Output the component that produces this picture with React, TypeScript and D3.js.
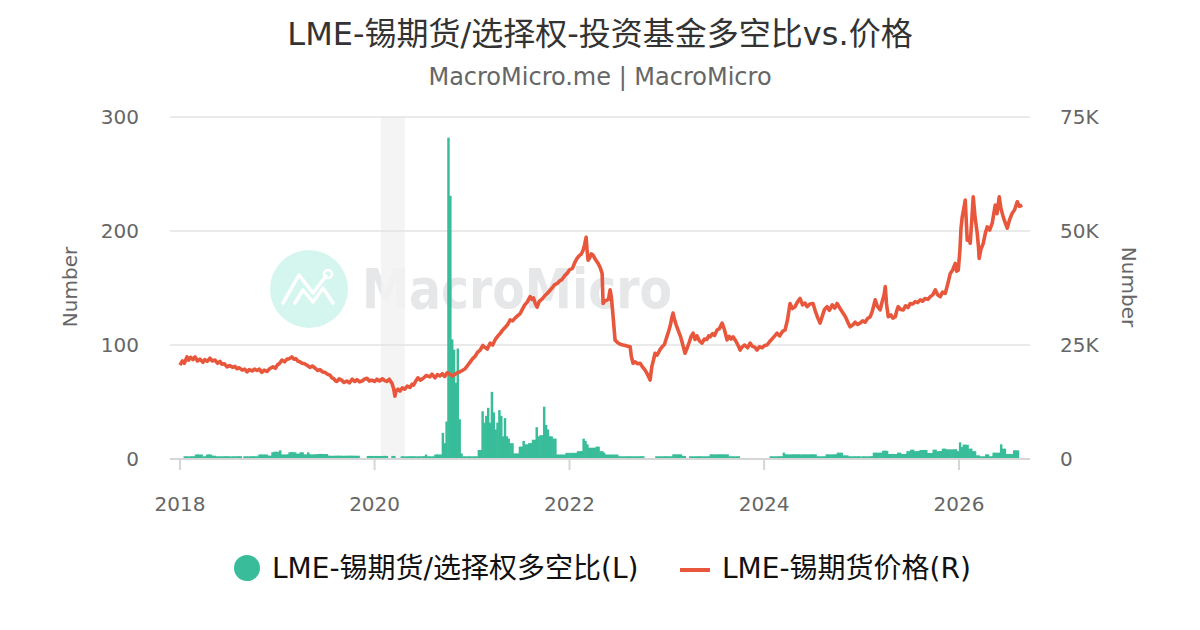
import * as d3 from "d3";
import { useEffect, useRef } from "react";

// weekly fund long/short ratio, one array per year (null = no report)
const ratio2018 = [null, null, 1.5, 1.5, 1.4, 1.5, 1.6, 1.5, 3, 3.2, 3, 3.1, 1.5, 1.5, 3, 3.2, 3, 2, 2, 1.5, 1.5, 1.4, 1.5, 1.5, 1.6, 1.5, 1.5, 1.4, 1.5, 1.5, 1.5, 1.6, 1.5, null, 1.5, 1.5, 1.4, 1.5, 1.5, 1.6, 1.5, 1.5, 3, 3.2, 3, 3.1, 3, 2, 2, 5, 5.5, 5.5];
const ratio2019 = [5.5, 6.7, 3, 3.1, 3, 3.2, 5, 5.2, 5, 5, 3.8, 3.8, 5, 5, 3.2, 3.2, 5, 3.2, 3.1, 3.2, 3.2, 3.5, 3.5, 3.6, 3.5, 3.4, 3.5, 2, 2, 1.9, 2, 2, 2.1, 2, 2, 1.9, 2, 2, 2, 2.1, 2, 2, 1.9, 2, null, null, null, null, 1.8, 1.8, 1.8, 1.8];
const ratio2020 = [1.8, 1.8, 1.7, 1.8, 1.8, 1.9, 1.8, null, null, 1.8, 1.8, null, null, null, 1.5, 1.5, 1.4, 1.5, 1.5, 1.6, 1.5, 1.5, 1.4, 1.5, 1.5, 1.5, 1.6, 3, 1.5, 1.5, 1.4, 1.5, 3, 3.2, 3, 3.1, 22, 13, 32, 281, 230, 104, 95, 66, 96, 34, 4, 1.5, 1.5, 1.4, 1.5, 1.5];
const ratio2021 = [1.5, 1.5, 1.5, 7, 7, 41, 31, 37, 44, 31, 58, 40, 25, 31, 42, 37, 19, 35, 19, 17, 13, 13, 4, 4, 4, 10, 10, 15, 12, 12, 13, 13, 16, 16, 27, 19, 20, 20, 45, 29, 25, 19, 19, 17, 17, 3, 3, 3, 3, 3, 4.5, 4.5];
const ratio2022 = [4.5, 4.5, 4.5, 4.5, 6, 6, 6, 17, 15, 12, 9, 9, 9, 9, 10, 10, 6, 6, 4.7, 3, 3, 3, 3, 3, 3, 3, 1.5, 1.5, 1.4, 1.5, 1.5, 1.6, 1.5, 1.5, 1.4, 1.5, 1.5, 1.5, 1.6, 1.5, null, null, null, null, null, null, 1.5, 1.5, 1.4, 1.5, 1.5, 1.6];
const ratio2023 = [1.5, 1.5, 1.5, 3.2, 3.2, 3.1, 3.2, 3.2, 1.8, 1.8, null, null, 1.5, 1.5, 1.4, 1.5, 1.5, 1.6, 1.5, 1.5, 1.4, 1.5, 1.5, 3.2, 3.2, 3.1, 3.2, 3.2, 3.3, 3.2, 3.2, 3.1, 3.2, 1.5, 1.5, 1.5, 1.4, 1.5, 1.5, null, null, null, null, null, null, null, null, null, null, null, null, null];
const ratio2024 = [null, null, null, 1.5, 1.5, 1.4, 1.5, 1.5, 1.6, 1.5, 4.7, 3.2, 3.2, 3.1, 3.2, 3.2, 3.3, 3.2, 3.2, 3.1, 3.2, 3.2, 3.2, 3.1, 3.2, 3.3, 3.2, 3.2, 1.5, 1.5, 1.4, 1.5, 1.5, 3.2, 3.2, 3.1, 3.2, 3.2, 3.3, 4.7, 4.7, 4.6, 2.3, 2.3, 2.3, 1.5, 1.5, 1.4, 1.5, 1.5, 1.6, 1.5];
const ratio2025 = [1.5, 1.5, 1.4, 1.5, 1.5, 1.6, 4.7, 4.7, 4.6, 4.7, 4.7, 6.4, 6.4, 6.3, 3.5, 3.5, 3.6, 3.5, 3.5, 4.7, 4.7, 3.5, 3.5, 3.6, 6, 6, 7.3, 7.3, 6, 6, 6.1, 7, 7, 7.1, 7, 4.4, 4.4, 4.4, 7.3, 7.3, 6, 6, 6.1, 8.2, 8.2, 7.6, 7.6, 7.5, 7.6, 7.6, 7.7, 6];
const ratio2026 = [13.7, 9.6, 11.7, 11.7, 11.6, 8.2, 8.2, 6, 6, 2.3, 2.3, 1.5, 1.5, 1.5, 3.2, 3.2, 1.5, 1.5, 4.7, 4.7, 4.6, 4.7, 12, 8.2, 8.2, 3.5, 3.5, 3.6, 3.5, 6.7, 6.7, 6.7];

const ratioYears: [number, (number | null)[]][] = [
  [2018, ratio2018],
  [2019, ratio2019],
  [2020, ratio2020],
  [2021, ratio2021],
  [2022, ratio2022],
  [2023, ratio2023],
  [2024, ratio2024],
  [2025, ratio2025],
  [2026, ratio2026],
];

// LME tin price (thousand USD), [decimal year, price]
const priceSeries: [number, number][] = [
  [2018.0, 20.6], [2018.025, 21.5], [2018.045, 21.0], [2018.072, 22.4], [2018.09, 21.7],
  [2018.11, 22.3], [2018.134, 21.8], [2018.155, 22.4], [2018.18, 21.5], [2018.205, 21.9],
  [2018.236, 21.2], [2018.255, 21.8], [2018.28, 21.4], [2018.308, 22.1], [2018.33, 21.5],
  [2018.36, 21.7], [2018.385, 21.0], [2018.411, 21.4], [2018.43, 20.8], [2018.455, 20.9],
  [2018.483, 20.2], [2018.51, 20.5], [2018.54, 20.1], [2018.565, 20.3], [2018.586, 19.8],
  [2018.61, 20.0], [2018.64, 19.5], [2018.665, 19.7], [2018.688, 19.1], [2018.71, 19.6],
  [2018.74, 19.3], [2018.765, 19.7], [2018.791, 19.4], [2018.815, 19.7], [2018.84, 19.0],
  [2018.865, 19.5], [2018.894, 19.2], [2018.92, 19.8], [2018.955, 20.2], [2018.98, 19.9],
  [2019.0, 20.6], [2019.025, 21.0], [2019.048, 21.7], [2019.075, 21.3], [2019.1, 21.9],
  [2019.125, 22.0], [2019.15, 22.4], [2019.17, 21.9], [2019.19, 22.0], [2019.21, 21.5],
  [2019.233, 21.3], [2019.255, 21.0], [2019.28, 20.9], [2019.31, 20.5], [2019.335, 20.1],
  [2019.36, 20.4], [2019.39, 19.9], [2019.415, 19.4], [2019.438, 19.6], [2019.465, 19.1],
  [2019.49, 19.0], [2019.515, 18.6], [2019.541, 18.4], [2019.56, 17.8], [2019.58, 17.6],
  [2019.6, 17.1], [2019.613, 17.0], [2019.635, 17.6], [2019.66, 17.3], [2019.685, 16.8],
  [2019.715, 17.1], [2019.74, 16.7], [2019.77, 17.5], [2019.795, 17.0], [2019.818, 17.4],
  [2019.845, 16.9], [2019.87, 17.1], [2019.895, 17.5], [2019.921, 17.7], [2019.945, 17.1],
  [2019.97, 17.3], [2020.0, 17.0], [2020.024, 17.5], [2020.05, 17.1], [2020.08, 17.6],
  [2020.105, 17.2], [2020.126, 17.0], [2020.15, 17.5], [2020.178, 16.6], [2020.195, 15.5],
  [2020.209, 13.8], [2020.22, 14.9], [2020.24, 15.3], [2020.26, 14.9], [2020.285, 15.6],
  [2020.31, 15.3], [2020.335, 16.0], [2020.363, 15.7], [2020.385, 16.4], [2020.4, 16.2],
  [2020.42, 17.0], [2020.445, 17.8], [2020.47, 17.3], [2020.5, 17.7], [2020.53, 18.3],
  [2020.568, 18.0], [2020.59, 18.6], [2020.62, 17.8], [2020.645, 18.5], [2020.671, 18.2],
  [2020.695, 18.7], [2020.72, 18.1], [2020.745, 18.9], [2020.774, 18.6], [2020.8, 18.2],
  [2020.82, 18.5], [2020.85, 18.9], [2020.876, 19.1], [2020.9, 19.4], [2020.93, 19.8],
  [2020.955, 20.5], [2020.979, 21.2], [2021.005, 22.0], [2021.03, 22.5], [2021.055, 23.4],
  [2021.082, 23.9], [2021.11, 24.9], [2021.13, 24.5], [2021.155, 24.1], [2021.184, 25.4],
  [2021.21, 25.0], [2021.24, 26.3], [2021.265, 27.0], [2021.287, 27.5], [2021.31, 28.2],
  [2021.34, 28.9], [2021.365, 29.5], [2021.39, 30.5], [2021.415, 30.3], [2021.44, 30.9],
  [2021.465, 31.4], [2021.493, 31.9], [2021.515, 32.8], [2021.54, 33.8], [2021.565, 34.4],
  [2021.595, 35.6], [2021.615, 35.0], [2021.63, 35.3], [2021.65, 34.0], [2021.667, 33.3],
  [2021.69, 34.6], [2021.72, 35.1], [2021.745, 35.8], [2021.77, 36.3], [2021.795, 36.9],
  [2021.82, 37.5], [2021.845, 38.2], [2021.873, 38.5], [2021.9, 39.1], [2021.92, 39.3],
  [2021.95, 40.2], [2021.975, 40.7], [2022.0, 41.5], [2022.03, 41.8], [2022.055, 43.1],
  [2022.078, 44.0], [2022.1, 44.6], [2022.12, 44.9], [2022.14, 45.8], [2022.155, 47.0],
  [2022.171, 48.6], [2022.18, 46.0], [2022.191, 43.6], [2022.21, 44.2], [2022.225, 45.0],
  [2022.242, 44.7], [2022.265, 43.8], [2022.294, 42.9], [2022.315, 42.0], [2022.335, 40.7],
  [2022.345, 34.1], [2022.36, 34.6], [2022.38, 34.8], [2022.4, 35.0], [2022.417, 37.1],
  [2022.43, 35.5], [2022.448, 31.2], [2022.468, 26.1], [2022.49, 25.6], [2022.51, 25.3],
  [2022.53, 25.1], [2022.551, 25.0], [2022.575, 24.9], [2022.6, 24.7], [2022.623, 24.6],
  [2022.635, 22.5], [2022.653, 21.0], [2022.675, 21.3], [2022.7, 20.9], [2022.725, 21.0],
  [2022.75, 20.2], [2022.776, 19.5], [2022.8, 18.6], [2022.828, 17.3], [2022.845, 20.2],
  [2022.86, 21.5], [2022.879, 23.2], [2022.9, 22.8], [2022.93, 24.0], [2022.951, 24.6],
  [2022.975, 25.1], [2022.995, 26.5], [2023.013, 27.6], [2023.035, 29.2], [2023.05, 30.8],
  [2023.064, 32.0], [2023.08, 30.5], [2023.1, 29.2], [2023.115, 28.3], [2023.14, 26.9],
  [2023.165, 25.0], [2023.187, 23.2], [2023.21, 24.4], [2023.23, 25.6], [2023.25, 26.9],
  [2023.27, 27.6], [2023.29, 26.2], [2023.31, 27.0], [2023.335, 25.9], [2023.362, 25.4],
  [2023.385, 26.3], [2023.41, 26.2], [2023.43, 27.0], [2023.444, 26.8], [2023.47, 27.5],
  [2023.49, 27.1], [2023.516, 28.3], [2023.54, 28.6], [2023.568, 29.8], [2023.59, 28.5],
  [2023.619, 26.1], [2023.64, 26.9], [2023.66, 26.3], [2023.681, 26.8], [2023.705, 26.0],
  [2023.73, 25.0], [2023.753, 23.9], [2023.775, 24.6], [2023.8, 25.0], [2023.83, 24.4],
  [2023.855, 25.4], [2023.88, 24.7], [2023.905, 24.5], [2023.927, 23.9], [2023.95, 24.6],
  [2023.98, 24.4], [2024.005, 24.9], [2024.03, 25.0], [2024.055, 25.7], [2024.08, 26.3],
  [2024.105, 26.9], [2024.133, 27.6], [2024.16, 27.0], [2024.19, 28.0], [2024.215, 28.3],
  [2024.24, 30.5], [2024.266, 34.1], [2024.29, 33.0], [2024.318, 33.4], [2024.345, 34.5],
  [2024.369, 35.2], [2024.395, 33.8], [2024.42, 34.2], [2024.441, 33.4], [2024.47, 34.0],
  [2024.502, 34.1], [2024.525, 32.5], [2024.55, 31.0], [2024.574, 29.8], [2024.6, 31.5],
  [2024.62, 32.8], [2024.646, 33.4], [2024.67, 32.6], [2024.7, 33.8], [2024.725, 33.1],
  [2024.749, 34.1], [2024.78, 33.0], [2024.81, 32.0], [2024.835, 31.2], [2024.86, 30.0],
  [2024.882, 29.0], [2024.91, 29.4], [2024.935, 30.0], [2024.96, 29.5], [2024.985, 29.8],
  [2025.01, 30.3], [2025.035, 30.0], [2025.06, 30.8], [2025.088, 31.2], [2025.11, 32.5],
  [2025.139, 34.9], [2025.16, 33.5], [2025.19, 32.7], [2025.21, 34.5], [2025.23, 36.0],
  [2025.242, 37.8], [2025.255, 34.0], [2025.273, 31.2], [2025.3, 31.6], [2025.32, 30.9],
  [2025.345, 31.2], [2025.36, 32.5], [2025.375, 33.4], [2025.4, 32.8], [2025.427, 32.7],
  [2025.45, 33.6], [2025.475, 33.2], [2025.499, 34.1], [2025.525, 34.0], [2025.55, 34.5],
  [2025.575, 34.3], [2025.601, 34.9], [2025.625, 34.6], [2025.65, 35.2], [2025.68, 35.0],
  [2025.704, 35.6], [2025.73, 36.0], [2025.756, 37.1], [2025.78, 36.0], [2025.807, 35.6],
  [2025.83, 36.6], [2025.858, 36.3], [2025.885, 38.5], [2025.91, 40.7], [2025.935, 41.5],
  [2025.961, 42.9], [2025.975, 41.2], [2025.992, 41.4], [2026.01, 46.0], [2026.02, 50.5],
  [2026.033, 53.1], [2026.05, 55.0], [2026.064, 56.8], [2026.075, 52.0], [2026.084, 48.0],
  [2026.1, 48.6], [2026.115, 47.3], [2026.13, 52.0], [2026.146, 57.5], [2026.165, 53.0],
  [2026.187, 49.5], [2026.2, 46.5], [2026.207, 44.0], [2026.225, 46.0], [2026.249, 47.3],
  [2026.27, 49.5], [2026.29, 50.9], [2026.315, 50.2], [2026.341, 51.7], [2026.355, 53.5],
  [2026.372, 55.7], [2026.39, 53.8], [2026.413, 57.5], [2026.43, 55.0], [2026.454, 53.1],
  [2026.475, 51.8], [2026.495, 50.6], [2026.52, 52.5], [2026.546, 53.9], [2026.57, 54.6],
  [2026.598, 56.4], [2026.62, 55.4], [2026.649, 55.7],
];

const recessions: [number, number][] = [[2020.065, 2020.31]];
const leftTicks = [0, 100, 200, 300];
const rightTicks = [0, 25, 50, 75];
const yearTicks = [2018, 2020, 2022, 2024, 2026];

const TITLE = "LME-锡期货/选择权-投资基金多空比vs.价格";
const SUBTITLE = "MacroMicro.me | MacroMicro";
const LEGEND_BARS = "LME-锡期货/选择权多空比(L)";
const LEGEND_LINE = "LME-锡期货价格(R)";

const GREEN = "#38bc99";
const RED = "#e8573c";
const FONT = "'DejaVu Sans', 'Noto Sans CJK SC', sans-serif";

const toDate = (t: number) => {
  const y = Math.floor(t);
  return new Date(Date.UTC(y, 0, 1) + (t - y) * 365.25 * 864e5);
};

export default function App() {
  const svgRef = useRef<SVGSVGElement>(null);

  useEffect(() => {
    if (!svgRef.current) return;
    const svg = d3.select(svgRef.current);
    svg.selectAll("*").remove();

    const left = 170, right = 1030, top = 117, bottom = 459;

    const x = d3
      .scaleUtc()
      .domain([toDate(2017.897), toDate(2026.729)])
      .range([left, right]);
    const yL = d3.scaleLinear().domain([0, 300]).range([bottom, top]);
    const yR = d3.scaleLinear().domain([0, 75]).range([bottom, top]);

    // Title
    svg.append("text")
      .attr("x", 600).attr("y", 45)
      .attr("text-anchor", "middle")
      .attr("font-size", 32).attr("fill", "#333")
      .text(TITLE);
    svg.append("text")
      .attr("x", 600).attr("y", 85)
      .attr("text-anchor", "middle")
      .attr("font-size", 24).attr("fill", "#666")
      .text(SUBTITLE);

    // Watermark
    const wm = svg.append("g");
    wm.append("circle").attr("cx", 309).attr("cy", 289).attr("r", 39).attr("fill", "#d5f6ef");
    wm.append("path")
      .attr("d", "M283,303 L299,275 L313,293 L326,276 M295,303 L303,290 L313,302 L323,288 L333,303")
      .attr("fill", "none").attr("stroke", "#fff").attr("stroke-width", 3.5)
      .attr("stroke-linecap", "round").attr("stroke-linejoin", "round");
    wm.append("circle").attr("cx", 328).attr("cy", 274).attr("r", 4)
      .attr("fill", "none").attr("stroke", "#fff").attr("stroke-width", 2.5);
    wm.append("text")
      .attr("x", 362).attr("y", 308)
      .attr("font-size", 55).attr("font-weight", "bold")
      .attr("fill", "#e6e7e8")
      .attr("textLength", 310).attr("lengthAdjust", "spacingAndGlyphs")
      .text("MacroMicro");

    // Recession shading
    svg.append("g").selectAll("rect")
      .data(recessions).enter().append("rect")
      .attr("x", (d) => x(toDate(d[0])))
      .attr("width", (d) => x(toDate(d[1])) - x(toDate(d[0])))
      .attr("y", top).attr("height", bottom - top)
      .attr("fill", "#f2f2f2").attr("opacity", 0.85);

    // Grid lines
    svg.append("g").selectAll("line")
      .data(leftTicks.filter((d) => d > 0)).enter().append("line")
      .attr("x1", left).attr("x2", right)
      .attr("y1", (d) => yL(d)).attr("y2", (d) => yL(d))
      .attr("stroke", "#e3e3e3").attr("stroke-width", 1.3);

    // Bars
    const bars: { date: Date; value: number }[] = [];
    ratioYears.forEach(([year, values]) => {
      values.forEach((v, i) => {
        if (v == null) return;
        bars.push({ date: new Date(Date.UTC(year, 0, 4 + i * 7)), value: v });
      });
    });
    const bw = x(new Date(Date.UTC(2020, 0, 8))) - x(new Date(Date.UTC(2020, 0, 1)));
    svg.append("g").selectAll("rect")
      .data(bars).enter().append("rect")
      .attr("x", (d) => x(d.date) - bw / 2)
      .attr("width", bw + 0.6)
      .attr("y", (d) => yL(d.value) - 1)
      .attr("height", (d) => bottom - yL(d.value))
      .attr("fill", GREEN);

    // X axis
    svg.append("line")
      .attr("x1", left).attr("x2", right)
      .attr("y1", bottom).attr("y2", bottom)
      .attr("stroke", "#d6d6d6").attr("stroke-width", 2);
    const xt = svg.append("g");
    xt.selectAll("line")
      .data(yearTicks).enter().append("line")
      .attr("x1", (d) => x(toDate(d))).attr("x2", (d) => x(toDate(d)))
      .attr("y1", bottom).attr("y2", bottom + 11)
      .attr("stroke", "#d6d6d6").attr("stroke-width", 2);
    xt.selectAll("text")
      .data(yearTicks).enter().append("text")
      .attr("x", (d) => x(toDate(d))).attr("y", 511)
      .attr("text-anchor", "middle")
      .attr("font-size", 20).attr("fill", "#666")
      .text((d) => String(d));

    // Price line
    const line = d3.line<[number, number]>()
      .x((d) => x(toDate(d[0])))
      .y((d) => yR(d[1]));
    svg.append("path")
      .datum(priceSeries)
      .attr("d", line)
      .attr("fill", "none")
      .attr("stroke", RED)
      .attr("stroke-width", 3.6)
      .attr("stroke-linejoin", "round");

    // Y axes
    svg.append("g").selectAll("text")
      .data(leftTicks).enter().append("text")
      .attr("x", 139).attr("y", (d) => yL(d) + 7)
      .attr("text-anchor", "end")
      .attr("font-size", 20).attr("fill", "#666")
      .text((d) => String(d));
    svg.append("g").selectAll("text")
      .data(rightTicks).enter().append("text")
      .attr("x", 1060).attr("y", (d) => yR(d) + 7)
      .attr("text-anchor", "start")
      .attr("font-size", 20).attr("fill", "#666")
      .text((d) => (d === 0 ? "0" : `${d}K`));
    svg.append("text")
      .attr("transform", "translate(77,287) rotate(-90)")
      .attr("text-anchor", "middle")
      .attr("font-size", 20).attr("fill", "#666")
      .text("Number");
    svg.append("text")
      .attr("transform", "translate(1122,287) rotate(90)")
      .attr("text-anchor", "middle")
      .attr("font-size", 20).attr("fill", "#666")
      .text("Number");

    // Legend
    const lg = svg.append("g").attr("font-size", 28).attr("fill", "#111");
    lg.append("circle").attr("cx", 247).attr("cy", 568).attr("r", 13).attr("fill", GREEN);
    lg.append("text").attr("x", 272).attr("y", 578).text(LEGEND_BARS);
    lg.append("line")
      .attr("x1", 680).attr("x2", 710).attr("y1", 570).attr("y2", 570)
      .attr("stroke", RED).attr("stroke-width", 4);
    lg.append("text").attr("x", 722).attr("y", 578).text(LEGEND_LINE);
  }, []);

  return (
    <svg
      ref={svgRef}
      width={1200}
      height={630}
      style={{ position: "absolute", left: 0, top: 0, fontFamily: FONT, background: "#fff" }}
    />
  );
}
